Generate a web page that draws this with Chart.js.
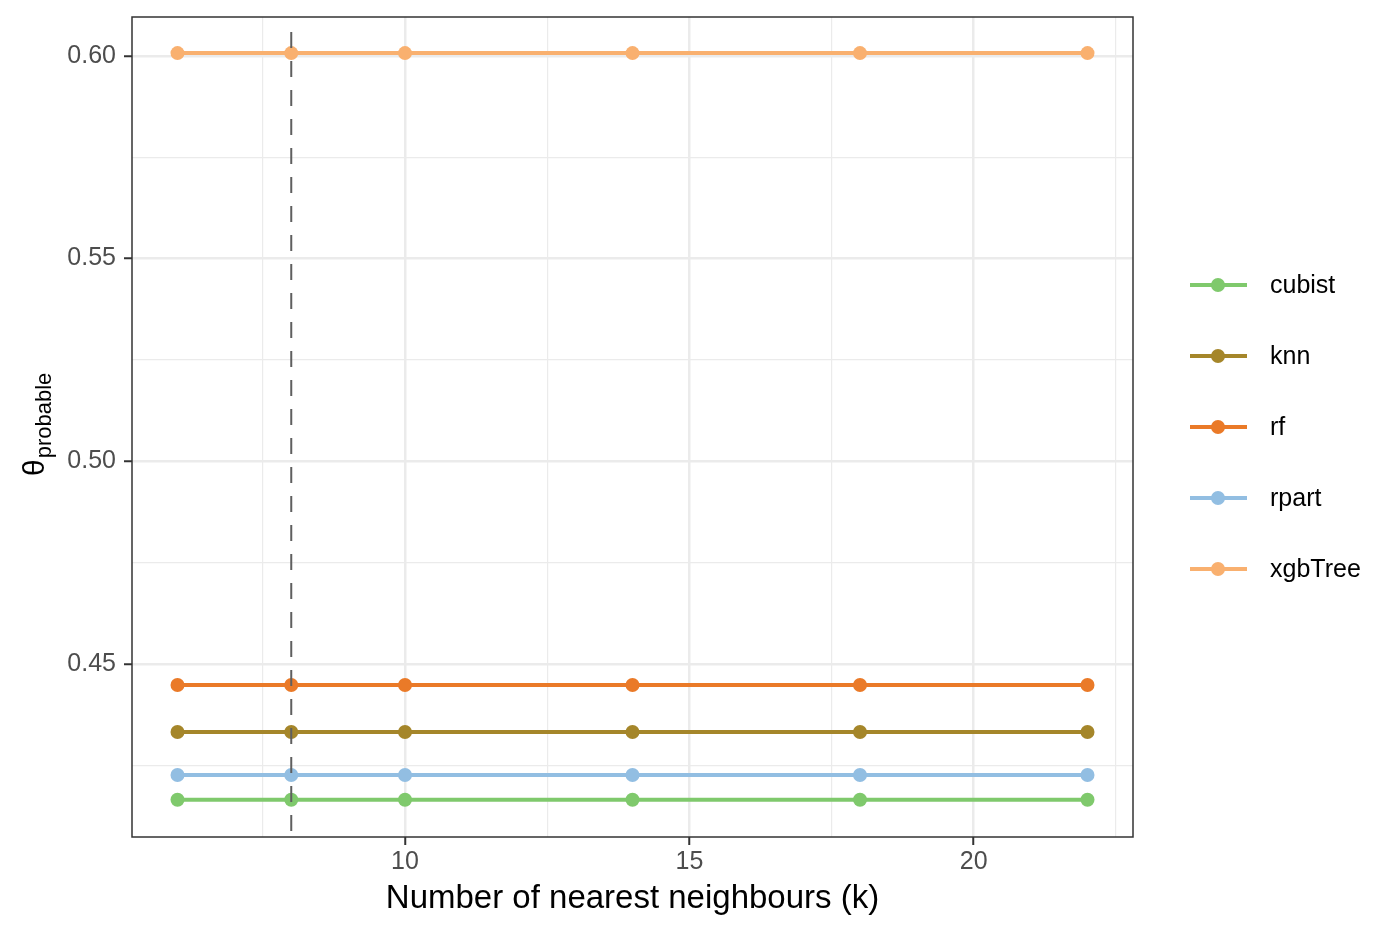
<!DOCTYPE html>
<html lang="en">
<head>
    <meta charset="UTF-8">
    <title>Theta probable vs k</title>
    <script src="https://cdn.jsdelivr.net/npm/chart.js@4/dist/chart.umd.min.js"></script>
    <style>
        html, body { margin: 0; padding: 0; background: #fff; }
        #wrap { width: 1400px; height: 933px; }
    </style>
</head>
<body>
    <div id="wrap"><canvas id="chart" width="1400" height="933"></canvas></div>
    <script>
        // Data
        const kValues = [6, 8, 10, 14, 18, 22];
        const models = ['cubist', 'knn', 'rf', 'rpart', 'xgbTree'];
        const cubist = [0.4165, 0.4165, 0.4165, 0.4165, 0.4165, 0.4165];
        const knn = [0.4332, 0.4332, 0.4332, 0.4332, 0.4332, 0.4332];
        const rf = [0.4448, 0.4448, 0.4448, 0.4448, 0.4448, 0.4448];
        const rpart = [0.4226, 0.4226, 0.4226, 0.4226, 0.4226, 0.4226];
        const xgbTree = [0.6007, 0.6007, 0.6007, 0.6007, 0.6007, 0.6007];
        const selectedK = 8;
        const xTicks = [7.5, 10, 12.5, 15, 17.5, 20, 22.5];
        const xMajor = [10, 15, 20];
        const yTicks = [0.425, 0.45, 0.475, 0.5, 0.525, 0.55, 0.575, 0.6];
        const yMajor = [0.45, 0.5, 0.55, 0.6];

        const seriesValues = [cubist, knn, rf, rpart, xgbTree];
        const colors = ['#7FC96C', '#A5862A', '#EA7A28', '#92BEE2', '#F9B06F'];

        const isMajor = (list, v) => list.some(m => Math.abs(m - v) < 1e-9);
        const FONT = 'Liberation Sans, Arial, sans-serif';

        // panel border, dashed k line, y title and legend
        const extras = {
            id: 'extras',
            afterDatasetsDraw(chart) {
                const ctx = chart.ctx;
                const a = chart.chartArea;
                const x = chart.scales.x.getPixelForValue(selectedK);
                ctx.save();
                ctx.strokeStyle = '#5f5f5f';
                ctx.lineWidth = 2;
                ctx.setLineDash([16, 13]);
                ctx.beginPath();
                ctx.moveTo(x, a.top + 15);
                ctx.lineTo(x, a.bottom);
                ctx.stroke();
                ctx.restore();
            },
            afterDraw(chart) {
                const ctx = chart.ctx;
                const a = chart.chartArea;
                ctx.save();
                ctx.strokeStyle = '#333';
                ctx.lineWidth = 1.5;
                ctx.strokeRect(a.left, a.top, a.right - a.left, a.bottom - a.top);

                // y axis title
                ctx.translate(44, 476);
                ctx.rotate(-Math.PI / 2);
                ctx.fillStyle = '#000';
                ctx.textBaseline = 'alphabetic';
                ctx.textAlign = 'left';
                ctx.font = '30px ' + FONT;
                ctx.fillText('θ', 0, 0);
                const tw = ctx.measureText('θ').width;
                ctx.font = '22px ' + FONT;
                ctx.fillText('probable', tw + 1, 7);
                ctx.restore();

                // legend
                ctx.save();
                const cy = (a.top + a.bottom) / 2;
                chart.data.datasets.forEach((ds, i) => {
                    const y = cy + (i - 2) * 71;
                    ctx.strokeStyle = ds.borderColor;
                    ctx.lineWidth = 4;
                    ctx.beginPath();
                    ctx.moveTo(1190, y);
                    ctx.lineTo(1247, y);
                    ctx.stroke();
                    ctx.fillStyle = ds.borderColor;
                    ctx.beginPath();
                    ctx.arc(1218, y, 7, 0, Math.PI * 2);
                    ctx.fill();
                    ctx.fillStyle = '#000';
                    ctx.font = '25px ' + FONT;
                    ctx.textBaseline = 'middle';
                    ctx.fillText(ds.label, 1270, y + 1);
                });
                ctx.restore();
            }
        };

        new Chart(document.getElementById('chart'), {
            type: 'line',
            data: {
                labels: kValues,
                datasets: models.map((m, i) => ({
                    label: m,
                    data: kValues.map((k, j) => ({ x: k, y: seriesValues[i][j] })),
                    borderColor: colors[i],
                    backgroundColor: colors[i],
                    borderWidth: 4,
                    pointRadius: 7,
                    pointBorderWidth: 0,
                    pointBackgroundColor: colors[i],
                    tension: 0
                }))
            },
            options: {
                responsive: false,
                animation: false,
                devicePixelRatio: 1,
                layout: { padding: { left: 50, right: 267, top: 17, bottom: 0 } },
                plugins: {
                    legend: { display: false },
                    tooltip: { enabled: false }
                },
                scales: {
                    x: {
                        type: 'linear',
                        min: 5.2,
                        max: 22.8,
                        afterBuildTicks(scale) {
                            scale.ticks = xTicks.map(v => ({ value: v }));
                        },
                        afterFit(scale) {
                            scale.height = 96;
                            scale.paddingLeft = 0;
                            scale.paddingRight = 0;
                        },
                        border: { display: false },
                        grid: {
                            color: '#EBEBEB',
                            lineWidth: c => isMajor(xMajor, c.tick.value) ? 2.5 : 1.2,
                            tickColor: c => isMajor(xMajor, c.tick.value) ? '#333' : 'rgba(0,0,0,0)',
                            tickLength: 8,
                            tickWidth: 2
                        },
                        ticks: {
                            autoSkip: false,
                            maxRotation: 0,
                            color: '#4D4D4D',
                            font: { family: FONT, size: 25 },
                            padding: 2,
                            callback: v => isMajor(xMajor, v) ? String(v) : ''
                        },
                        title: {
                            display: true,
                            text: 'Number of nearest neighbours (k)',
                            color: '#000',
                            font: { family: FONT, size: 33 },
                            padding: { top: 0, bottom: 14 }
                        }
                    },
                    y: {
                        min: 0.4073,
                        max: 0.6096,
                        afterBuildTicks(scale) {
                            scale.ticks = yTicks.map(v => ({ value: v }));
                        },
                        afterFit(scale) {
                            scale.width = 82;
                            scale.paddingTop = 0;
                            scale.paddingBottom = 0;
                        },
                        border: { display: false },
                        grid: {
                            color: '#EBEBEB',
                            lineWidth: c => isMajor(yMajor, c.tick.value) ? 2.5 : 1.2,
                            tickColor: c => isMajor(yMajor, c.tick.value) ? '#333' : 'rgba(0,0,0,0)',
                            tickLength: 8,
                            tickWidth: 2
                        },
                        ticks: {
                            autoSkip: false,
                            color: '#4D4D4D',
                            font: { family: FONT, size: 25 },
                            padding: 8,
                            callback: v => isMajor(yMajor, v) ? v.toFixed(2) : ''
                        }
                    }
                }
            },
            plugins: [extras]
        });
    </script>
</body>
</html>
